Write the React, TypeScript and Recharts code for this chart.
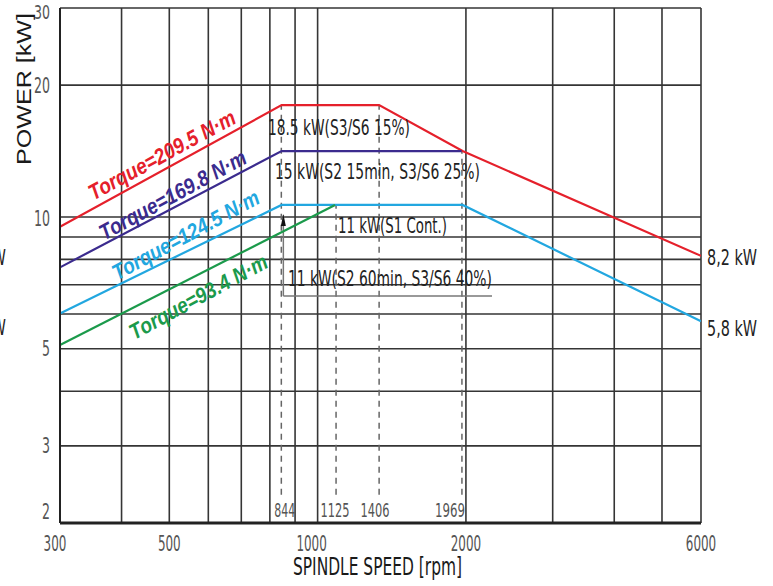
import React from "react";
import {
  LineChart,
  Line,
  XAxis,
  YAxis,
  CartesianGrid,
  ReferenceLine,
  ReferenceDot,
} from "recharts";

// ---------- data ----------
const speedTicks = [300, 500, 1000, 2000, 6000];
const powerTicks = [2, 3, 5, 10, 20, 30];
const speedGrid = [400, 500, 600, 700, 800, 900, 1000, 2000, 3000, 4000, 5000, 6000];
const powerGrid = [3, 4, 5, 6, 7, 8, 9, 10, 20, 30];

const redSpeed = [300, 845, 1333, 1969, 6000];
const redPower = [9.5, 18.0, 18.0, 14.14, 8.15];
const purpleSpeed = [300, 845, 1960];
const purplePower = [7.67, 14.14, 14.14];
const blueSpeed = [300, 845, 1969, 6000];
const bluePower = [6.02, 10.65, 10.65, 5.78];
const greenSpeed = [300, 1085];
const greenPower = [5.1, 10.65];

const torqueLabels = ["Torque=209.5 N·m", "Torque=169.8 N·m", "Torque=124.5 N·m", "Torque=93.4 N·m"];
const dutyLabels = [
  "18.5 kW(S3/S6 15%)",
  "15 kW(S2 15min, S3/S6 25%)",
  "11 kW(S1 Cont.)",
  "11 kW(S2 60min, S3/S6 40%)",
];
const breakSpeeds = [844, 1090, 1333, 1963];
const breakTops = [18.0, 10.65, 18.0, 14.14];
const breakLabels = ["844", "1125", "1406", "1969"];
const endLabels = ["8,2 kW", "5,8 kW"];
const sideLabels = ["kW", "kW"];

// ---------- layout (anchors in data units, sizes in px) ----------
const COLORS = ["#e5202b", "#3b2b8e", "#22a7e0", "#1b9a4b"];
const TORQUE_POS = [
  { x: 483, y: 13.85, len: 164 },
  { x: 508, y: 11.22, len: 164 },
  { x: 540, y: 9.09, len: 164 },
  { x: 573, y: 6.57, len: 154 },
];
const DUTY_POS = [
  { x: 1105, y: 15.97, len: 142 },
  { x: 1323, y: 12.67, len: 205 },
  { x: 1419, y: 9.58, len: 109 },
  { x: 1402, y: 7.25, len: 204 },
];
const BREAK_BOTTOM = 2.32;
const BREAK_LABEL_DX = [3.5, -1, -4, -12];
const BREAK_LABEL_LEN = [21, 29, 29, 30];
const XTICK_DX: Record<number, number> = { 300: -5, 1000: -6 };
const BRACKET = { x: 852, top: 10.1, bottom: 6.6, right: 2259 };
const SIDE_Y = [8.06, 5.58];

const NARROW = "'Liberation Sans Narrow', 'DejaVu Sans Condensed', 'Roboto Condensed', 'Arial Narrow', sans-serif";
const BOLDIT = "'Liberation Sans', Arial, sans-serif";

const toRows = (s: number[], p: number[]) => s.map((v, i) => ({ rpm: v, kw: p[i] }));
const series = [
  toRows(redSpeed, redPower),
  toRows(purpleSpeed, purplePower),
  toRows(blueSpeed, bluePower),
  toRows(greenSpeed, greenPower),
];

const XTick = (props: any) => {
  const { x, y, payload } = props;
  const s = String(payload.value);
  return (
    <text
      x={x + (XTICK_DX[payload.value] || 0)}
      y={y + 20}
      textAnchor="middle"
      dominantBaseline="central"
      fontFamily={NARROW}
      fontSize={22}
      fill="#555"
      textLength={s.length * 7.6}
      lengthAdjust="spacingAndGlyphs"
    >
      {s}
    </text>
  );
};

const YTick = (props: any) => {
  const { x, y, payload } = props;
  const v = payload.value;
  const s = String(v);
  const dy = v === 30 ? 4 : v === 2 ? -12 : v === 10 ? 2 : 0;
  return (
    <text
      x={x - 10}
      y={y + dy}
      textAnchor="end"
      dominantBaseline="central"
      fontFamily={NARROW}
      fontSize={v === 30 ? 19 : 22}
      fill="#555"
      textLength={s.length * 8}
      lengthAdjust="spacingAndGlyphs"
    >
      {s}
    </text>
  );
};

const xTitle = (p: any) => {
  const vb = p.viewBox;
  return (
    <text
      x={vb.x + vb.width / 2 - 3}
      y={vb.y + 44}
      textAnchor="middle"
      dominantBaseline="central"
      fontFamily={NARROW}
      fontSize={24}
      fill="#1a1a1a"
      textLength={169}
      lengthAdjust="spacingAndGlyphs"
    >
      SPINDLE SPEED [rpm]
    </text>
  );
};

const yTitle = (p: any) => {
  const vb = p.viewBox;
  const cx = vb.x + 24;
  const cy = vb.y + 81;
  return (
    <text
      x={cx}
      y={cy}
      transform={`rotate(-90 ${cx} ${cy})`}
      textAnchor="middle"
      dominantBaseline="central"
      fontFamily="'Liberation Sans', Arial, sans-serif"
      fontSize={20}
      fontWeight={500}
      fill="#1a1a1a"
      textLength={152}
      lengthAdjust="spacingAndGlyphs"
    >
      POWER [kW]
    </text>
  );
};

const textDot = (
  label: string,
  opts: {
    anchor?: string;
    dx?: number;
    dy?: number;
    size?: number;
    color?: string;
    len?: number;
    rotate?: number;
    family?: string;
    weight?: string;
    italic?: boolean;
  }
) => (p: any) => {
  const x = p.cx + (opts.dx || 0);
  const y = p.cy + (opts.dy || 0);
  return (
    <text
      x={x}
      y={y}
      textAnchor={opts.anchor || "middle"}
      dominantBaseline="central"
      transform={opts.rotate ? `rotate(${opts.rotate} ${x} ${y})` : undefined}
      fontFamily={opts.family || NARROW}
      fontSize={opts.size || 19}
      fontWeight={opts.weight || "normal"}
      fontStyle={opts.italic ? "italic" : "normal"}
      fill={opts.color || "#222"}
      textLength={opts.len}
      lengthAdjust={opts.len ? "spacingAndGlyphs" : undefined}
    >
      {label}
    </text>
  );
};

const arrowHead = (p: any) => (
  <path d={`M ${p.cx} ${p.cy - 1} L ${p.cx - 2.5} ${p.cy + 11} L ${p.cx + 2.5} ${p.cy + 11} Z`} fill="#111" />
);

export default function App() {
  return (
    <div style={{ position: "absolute", left: 0, top: 0, background: "#fff" }}>
      <LineChart width={773} height={586} margin={{ top: 8, right: 72, bottom: 0, left: 0 }}>
        <CartesianGrid
          stroke="#353535"
          strokeWidth={1.6}
          verticalValues={speedGrid}
          horizontalValues={powerGrid}
        />
        <XAxis
          type="number"
          dataKey="rpm"
          scale="log"
          domain={[300, 6000]}
          allowDataOverflow
          ticks={speedTicks}
          interval={0}
          tickLine={false}
          tickSize={0}
          tickMargin={0}
          axisLine={{ stroke: "#222", strokeWidth: 3 }}
          height={63}
          tick={XTick}
          label={xTitle}
        />
        <YAxis
          type="number"
          dataKey="kw"
          scale="log"
          domain={[2, 30]}
          allowDataOverflow
          ticks={powerTicks}
          interval={0}
          tickLine={false}
          tickSize={0}
          tickMargin={0}
          axisLine={{ stroke: "#222", strokeWidth: 2 }}
          width={60}
          tick={YTick}
          label={yTitle}
        />
        {breakSpeeds.map((s, i) => (
          <ReferenceLine
            key={"b" + i}
            segment={[
              { x: s, y: BREAK_BOTTOM },
              { x: s, y: breakTops[i] },
            ]}
            stroke="#666"
            strokeWidth={1.5}
            strokeDasharray="6 5"
            ifOverflow="visible"
          />
        ))}
        <ReferenceLine
          segment={[
            { x: BRACKET.x, y: BRACKET.top },
            { x: BRACKET.x, y: BRACKET.bottom },
          ]}
          stroke="#777"
          strokeWidth={1.5}
          ifOverflow="visible"
        />
        <ReferenceLine
          segment={[
            { x: BRACKET.x, y: BRACKET.bottom },
            { x: BRACKET.right, y: BRACKET.bottom },
          ]}
          stroke="#777"
          strokeWidth={1.5}
          ifOverflow="visible"
        />
        {series.map((d, i) => (
          <Line
            key={"s" + i}
            data={d}
            dataKey="kw"
            type="linear"
            stroke={COLORS[i]}
            strokeWidth={2.2}
            dot={false}
            activeDot={false}
            isAnimationActive={false}
          />
        ))}
        <ReferenceDot x={BRACKET.x} y={BRACKET.top} r={0} ifOverflow="visible" shape={arrowHead} />
        {torqueLabels.map((t, i) => (
          <ReferenceDot
            key={"t" + i}
            x={TORQUE_POS[i].x}
            y={TORQUE_POS[i].y}
            r={0}
            ifOverflow="visible"
            shape={textDot(t, {
              size: 22,
              color: COLORS[i],
              len: TORQUE_POS[i].len,
              rotate: -28.5,
              family: BOLDIT,
              weight: "bold",
              italic: true,
            })}
          />
        ))}
        {dutyLabels.map((t, i) => (
          <ReferenceDot
            key={"d" + i}
            x={DUTY_POS[i].x}
            y={DUTY_POS[i].y}
            r={0}
            ifOverflow="visible"
            shape={textDot(t, { size: 22, color: "#222", len: DUTY_POS[i].len })}
          />
        ))}
        {breakLabels.map((t, i) => (
          <ReferenceDot
            key={"l" + i}
            x={breakSpeeds[i]}
            y={2}
            r={0}
            ifOverflow="visible"
            shape={textDot(t, {
              size: 20,
              color: "#555",
              dx: BREAK_LABEL_DX[i],
              dy: -13,
              len: BREAK_LABEL_LEN[i],
            })}
          />
        ))}
        <ReferenceDot
          x={6000}
          y={redPower[redPower.length - 1]}
          r={0}
          ifOverflow="visible"
          shape={textDot(endLabels[0], { anchor: "start", dx: 6, dy: 2, size: 21, len: 50 })}
        />
        <ReferenceDot
          x={6000}
          y={bluePower[bluePower.length - 1]}
          r={0}
          ifOverflow="visible"
          shape={textDot(endLabels[1], { anchor: "start", dx: 6, dy: 8, size: 21, len: 50 })}
        />
        {sideLabels.map((t, i) => (
          <ReferenceDot
            key={"k" + i}
            x={300}
            y={SIDE_Y[i]}
            r={0}
            ifOverflow="visible"
            shape={textDot(t, { anchor: "end", dx: -54, size: 21, len: 22 })}
          />
        ))}
      </LineChart>
    </div>
  );
}
